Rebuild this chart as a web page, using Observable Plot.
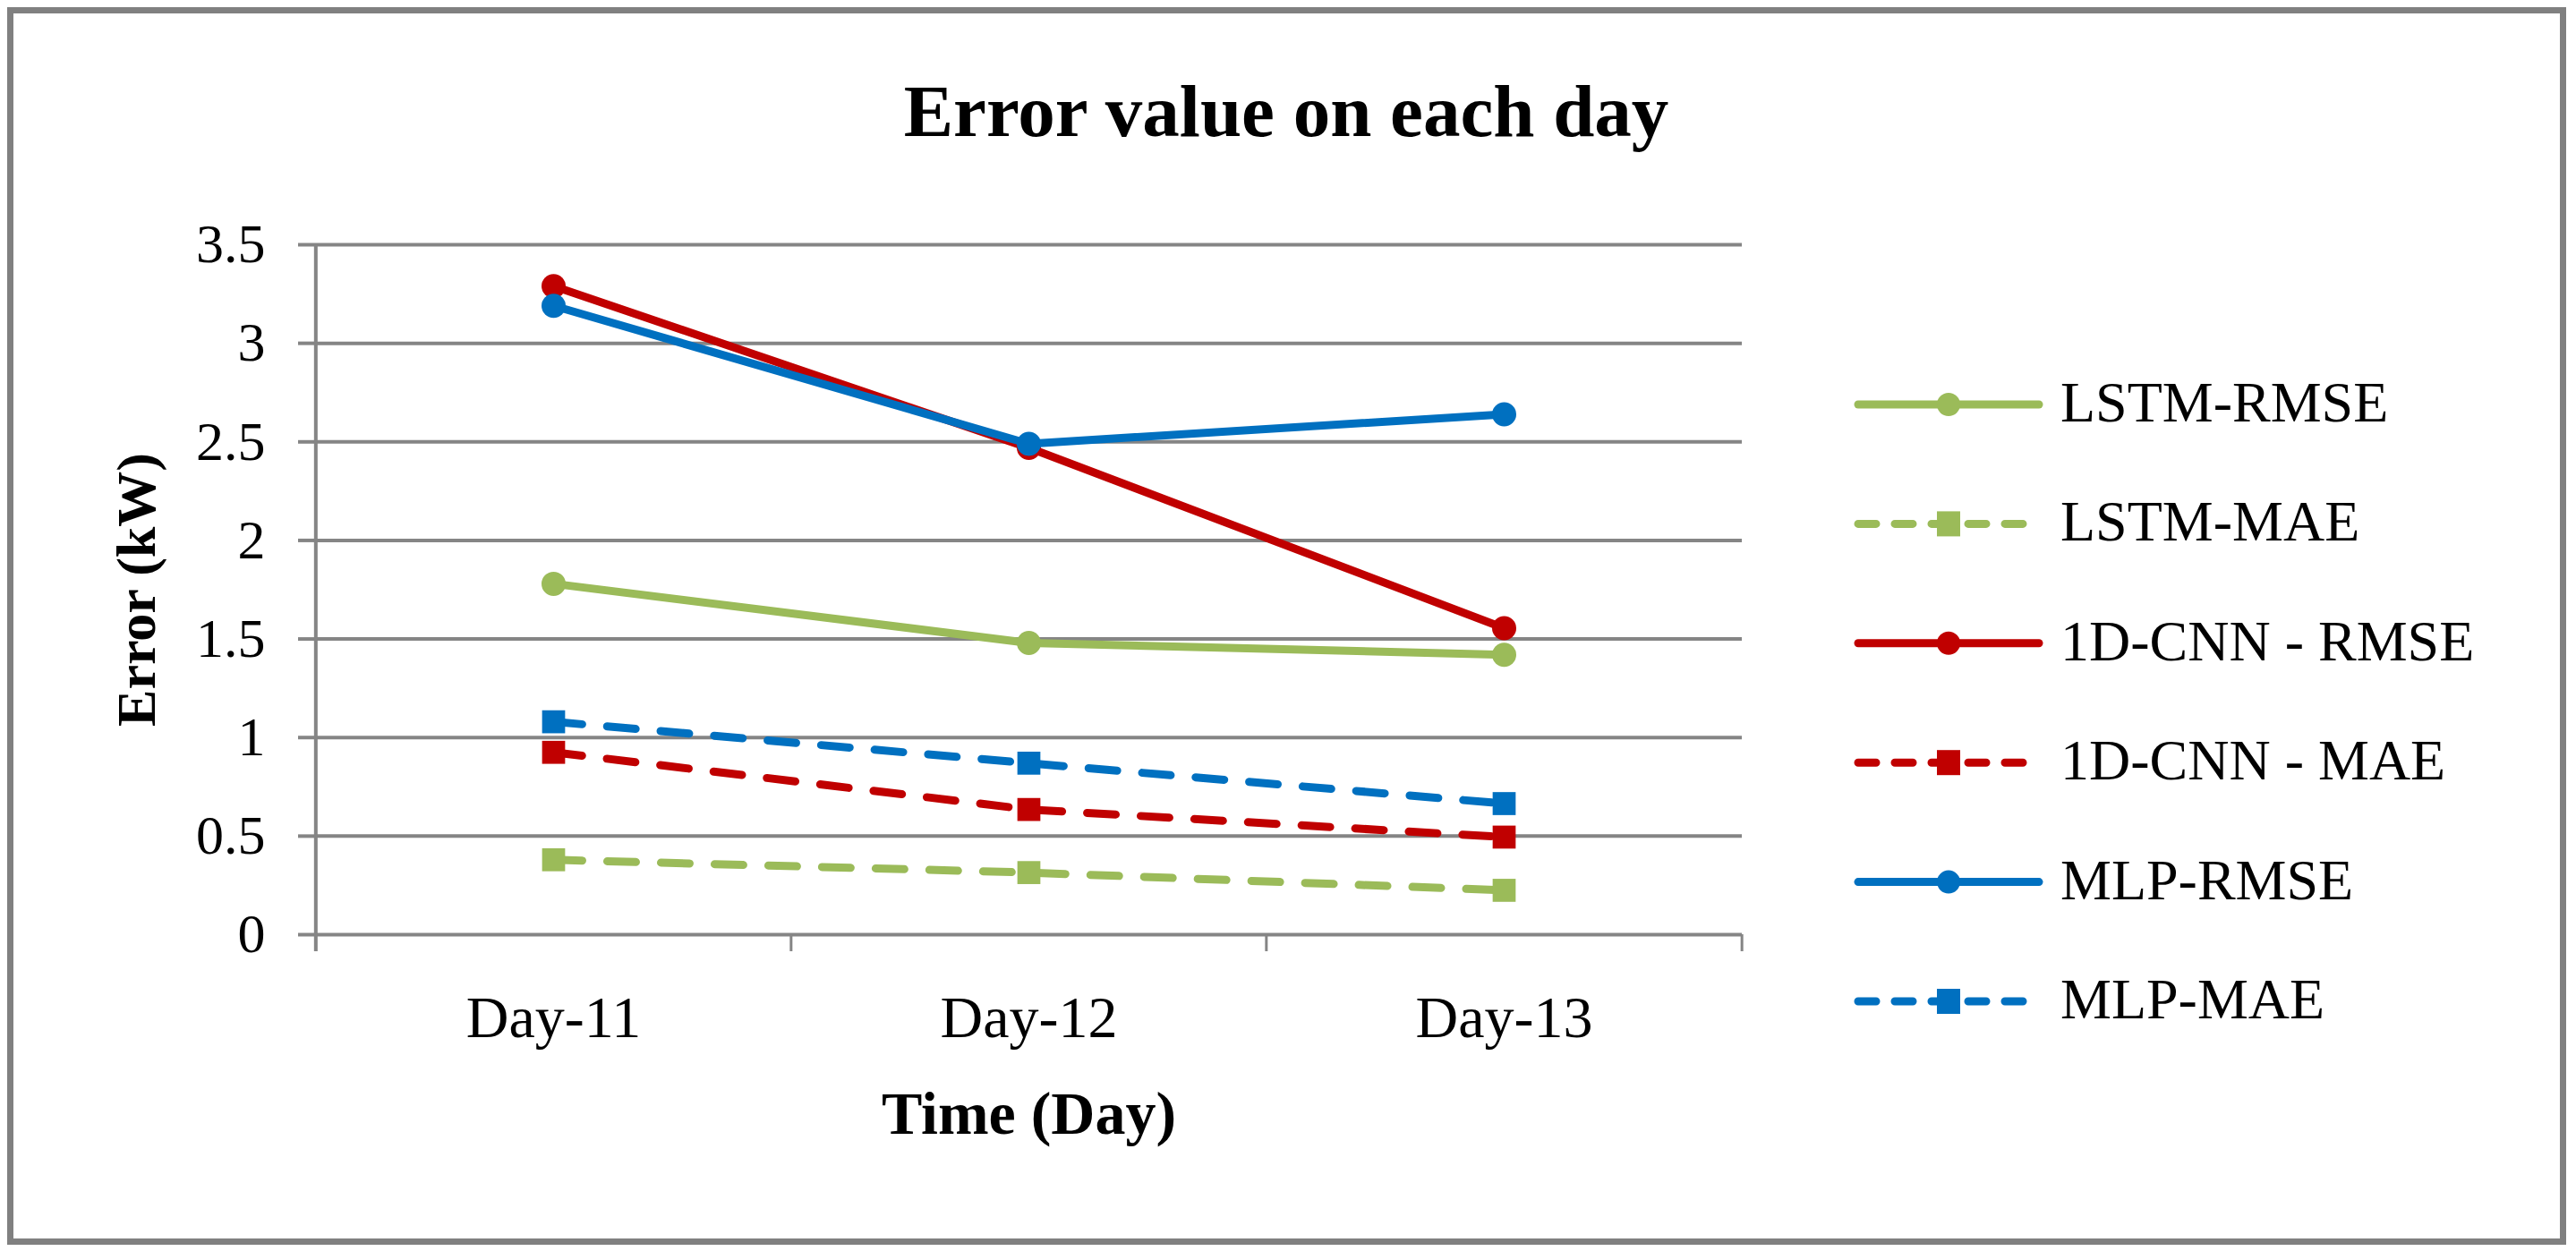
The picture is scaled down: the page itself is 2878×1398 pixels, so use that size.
<!DOCTYPE html>
<html>
<head>
<meta charset="utf-8">
<script src="https://cdn.jsdelivr.net/npm/d3@7"></script>
<script src="https://cdn.jsdelivr.net/npm/@observablehq/plot@0.6"></script>
<style>
  html, body { margin: 0; padding: 0; background: #fff; }
  #wrap { position: relative; width: 2878px; height: 1398px; overflow: hidden; background: #fff; }
  #wrap > svg { position: absolute; left: 0; top: 0; }
  #overlay { pointer-events: none; }
</style>
</head>
<body>
<div id="wrap"></div>
<script>
// ---- data ----
const days = ["Day-11", "Day-12", "Day-13"];
const seriesNames = ["LSTM-RMSE", "LSTM-MAE", "1D-CNN - RMSE", "1D-CNN - MAE", "MLP-RMSE", "MLP-MAE"];
const seriesColors = ["#9BBB59", "#9BBB59", "#C00000", "#C00000", "#0070C0", "#0070C0"];
const seriesKind = ["RMSE", "MAE", "RMSE", "MAE", "RMSE", "MAE"];
const lstmRmse = [1.78, 1.48, 1.42];
const lstmMae = [0.38, 0.315, 0.225];
const cnnRmse = [3.29, 2.47, 1.555];
const cnnMae = [0.925, 0.635, 0.495];
const mlpRmse = [3.19, 2.49, 2.64];
const mlpMae = [1.08, 0.87, 0.665];
const yTicks = [0, 0.5, 1, 1.5, 2, 2.5, 3, 3.5];
const titleText = "Error value on each day";
const xLabel = "Time (Day)";
const yLabel = "Error (kW)";

const seriesValues = [lstmRmse, lstmMae, cnnRmse, cnnMae, mlpRmse, mlpMae];
const rows = [];
seriesNames.forEach((name, i) => {
  days.forEach((d, j) => rows.push({series: name, day: d, value: seriesValues[i][j], kind: seriesKind[i], color: seriesColors[i]}));
});

// ---- layout ----
const W = 2878, H = 1398;
const mL = 352, mR = 932, mT = 273, mB = 354;
const innerW = W - mL - mR, innerH = H - mT - mB;
const step = innerW / days.length;
const pxPerUnit = innerH / 3.5;
const tickLen = 19;
const gridColor = "#858585";
const font = "'Liberation Serif', 'Times New Roman', serif";

const marks = [
  Plot.gridY(yTicks, {stroke: gridColor, strokeOpacity: 1, strokeWidth: 4}),
  Plot.axisY(yTicks, {tickSize: tickLen, tickPadding: 37, fontSize: 62, stroke: gridColor, strokeWidth: 4, tickFormat: d => String(d), label: null}),
  // vertical axis line
  Plot.ruleX([days[0]], {dx: -step / 2, y1: 3.5, y2: -tickLen / pxPerUnit, stroke: gridColor, strokeWidth: 4}),
  // category boundary ticks
  Plot.ruleX(days.slice(1), {x: d => d, dx: -step / 2, y1: 0, y2: -tickLen / pxPerUnit, stroke: gridColor, strokeWidth: 3}),
  Plot.ruleX([days[days.length - 1]], {dx: step / 2, y1: 0, y2: -tickLen / pxPerUnit, stroke: gridColor, strokeWidth: 3}),
  Plot.axisX({tickSize: 0, tickPadding: 68, fontSize: 66, label: null}),
  Plot.text([xLabel], {frameAnchor: "bottom", dy: 222, fontSize: 68, fontWeight: "bold", fill: "#000", textAnchor: "middle"}),
  Plot.text([yLabel], {frameAnchor: "left", dx: -199, rotate: -90, fontSize: 62, fontWeight: "bold", fill: "#000", textAnchor: "middle", lineAnchor: "middle"})
];

seriesNames.forEach((name, i) => {
  const data = rows.filter(r => r.series === name);
  const dashed = seriesKind[i] === "MAE";
  marks.push(Plot.line(data, {x: "day", y: "value", stroke: seriesColors[i], strokeWidth: 9,
    strokeLinecap: "round", strokeLinejoin: "round", strokeDasharray: dashed ? "32,28" : null}));
  marks.push(Plot.dot(data, {x: "day", y: "value", fill: seriesColors[i], stroke: "none",
    symbol: dashed ? "square" : "circle", r: dashed ? 14.5 : 13.5}));
});

const chart = Plot.plot({
  width: W, height: H,
  marginLeft: mL, marginRight: mR, marginTop: mT, marginBottom: mB,
  x: {type: "point", domain: days, padding: 0.5},
  y: {domain: [0, 3.5]},
  style: {fontFamily: font, background: "transparent", color: "#000", overflow: "visible"},
  marks
});
const wrap = document.getElementById("wrap");
wrap.appendChild(chart);

// ---- overlay: border, title, legend ----
const ov = d3.select(wrap).append("svg").attr("id", "overlay")
  .attr("width", W).attr("height", H).style("font-family", font);

ov.append("rect").attr("x", 11.5).attr("y", 11.5).attr("width", W - 26).attr("height", H - 22)
  .attr("fill", "none").attr("stroke", "#808080").attr("stroke-width", 7);

ov.append("text").attr("x", 1437).attr("y", 152).attr("text-anchor", "middle")
  .attr("font-size", 83).attr("font-weight", "bold").attr("fill", "#000").text(titleText);

const legY0 = 452, legStep = 133.4, legX1 = 2072, legX2 = 2282, legMid = 2177, legTx = 2302;
seriesNames.forEach((name, i) => {
  const y = legY0 + i * legStep;
  const g = ov.append("g");
  const dashed = seriesKind[i] === "MAE";
  g.append("line").attr("x1", legX1 + 4).attr("x2", dashed ? legX2 - 16 : legX2 - 4).attr("y1", y).attr("y2", y)
    .attr("stroke", seriesColors[i]).attr("stroke-width", 9).attr("stroke-linecap", "round")
    .attr("stroke-dasharray", dashed ? "20,21" : null);
  if (dashed) {
    g.append("rect").attr("x", legMid - 13).attr("y", y - 14).attr("width", 26).attr("height", 28).attr("fill", seriesColors[i]);
  } else {
    g.append("circle").attr("cx", legMid).attr("cy", y).attr("r", 13).attr("fill", seriesColors[i]);
  }
  g.append("text").attr("x", legTx).attr("y", y + 19).attr("font-size", 64).attr("fill", "#000").text(name);
});
</script>
</body>
</html>
